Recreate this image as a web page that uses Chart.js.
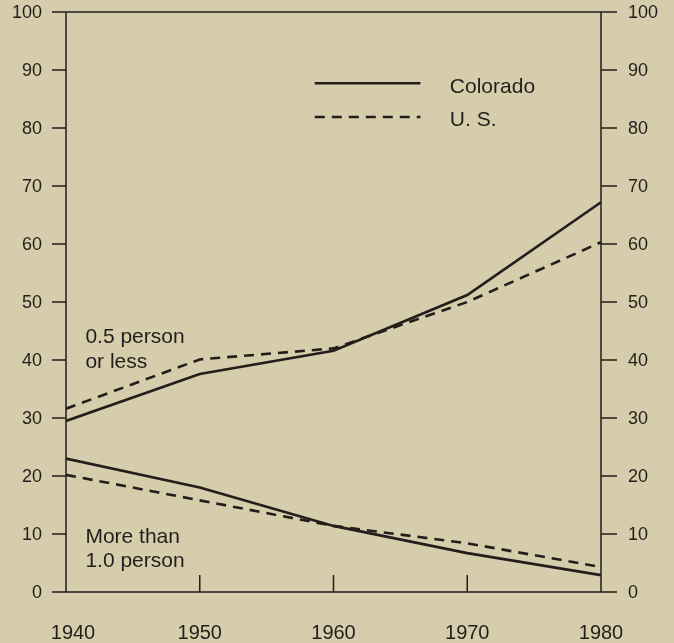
<!DOCTYPE html>
<html>
<head>
<meta charset="utf-8">
<script src="https://cdn.jsdelivr.net/npm/chart.js@4/dist/chart.umd.min.js"></script>
<style>
  html, body { margin: 0; padding: 0; background: #d6cdad; }
  #wrap { width: 674px; height: 643px; }
</style>
</head>
<body>
<div id="wrap"><canvas id="myChart" width="674" height="643"></canvas></div>
<script>
const years = [1940, 1950, 1960, 1970, 1980]
const yTicks = [0, 10, 20, 30, 40, 50, 60, 70, 80, 90, 100]

// persons per room, percent of occupied units
const coloradoLow = [29.5, 37.6, 41.6, 51.2, 67.2]
const usLow = [31.6, 40.1, 42.0, 50.0, 60.3]
const coloradoHigh = [23.0, 18.0, 11.4, 6.7, 2.9]
const usHigh = [20.2, 15.8, 11.4, 8.4, 4.3]

const ink = '#241d1a'
const fontName = '"Liberation Sans", Arial, sans-serif'

const toPoints = arr => arr.map((v, i) => ({x: years[i], y: v}))

const axesPlugin = {
  id: 'axesPlugin',
  afterDraw(chart) {
    const ctx = chart.ctx
    const x = chart.scales.x
    const y = chart.scales.y
    const left = x.getPixelForValue(1940)
    const right = x.getPixelForValue(1980)
    const top = y.getPixelForValue(100)
    const bottom = y.getPixelForValue(0)
    ctx.save()
    ctx.strokeStyle = ink
    ctx.fillStyle = ink
    ctx.lineWidth = 1.5
    ctx.beginPath()
    ctx.moveTo(left, top); ctx.lineTo(left, bottom)
    ctx.moveTo(right, top); ctx.lineTo(right, bottom)
    ctx.moveTo(left - 14, top); ctx.lineTo(right + 16, top)
    ctx.moveTo(left - 14, bottom); ctx.lineTo(right + 16, bottom)
    yTicks.forEach(t => {
      const py = y.getPixelForValue(t)
      ctx.moveTo(left - 14, py); ctx.lineTo(left, py)
      ctx.moveTo(right, py); ctx.lineTo(right + 16, py)
    })
    years.forEach(yr => {
      const px = x.getPixelForValue(yr)
      ctx.moveTo(px, bottom); ctx.lineTo(px, bottom - 17)
    })
    ctx.stroke()

    ctx.font = '18px ' + fontName
    ctx.textBaseline = 'middle'
    yTicks.forEach(t => {
      const py = y.getPixelForValue(t)
      ctx.textAlign = 'right'
      ctx.fillText(String(t), left - 24, py + 1)
      ctx.textAlign = 'left'
      ctx.fillText(String(t), right + 27, py + 1)
    })
    ctx.font = '20px ' + fontName
    ctx.textAlign = 'center'
    years.forEach((yr, i) => {
      let px = x.getPixelForValue(yr)
      if (i === 0) px += 7
      ctx.fillText(String(yr), px, bottom + 41)
    })

    // annotations
    ctx.font = '21px ' + fontName
    ctx.textAlign = 'left'
    const ax = x.getPixelForValue(1941.45)
    ctx.fillText('0.5 person', ax, y.getPixelForValue(44.0))
    ctx.fillText('or less', ax, y.getPixelForValue(39.7))
    ctx.fillText('More than', ax, y.getPixelForValue(9.4))
    ctx.fillText('1.0 person', ax, y.getPixelForValue(5.25))

    // legend
    const lx1 = x.getPixelForValue(1958.6)
    const lx2 = x.getPixelForValue(1966.5)
    const ly1 = y.getPixelForValue(87.7)
    const ly2 = y.getPixelForValue(81.9)
    ctx.lineWidth = 2.5
    ctx.beginPath()
    ctx.moveTo(lx1, ly1); ctx.lineTo(lx2, ly1)
    ctx.stroke()
    ctx.setLineDash([10, 7])
    ctx.beginPath()
    ctx.moveTo(lx1, ly2); ctx.lineTo(lx2, ly2)
    ctx.stroke()
    ctx.setLineDash([])
    const tx = x.getPixelForValue(1968.7)
    ctx.fillText('Colorado', tx, ly1 + 4)
    ctx.fillText('U. S.', tx, ly2 + 3)
    ctx.restore()
  }
}

const lineStyle = dashed => ({
  borderColor: ink,
  borderWidth: 2.6,
  borderDash: dashed ? [10, 7] : [],
  pointRadius: 0,
  tension: 0,
  fill: false
})

new Chart(document.getElementById('myChart'), {
  type: 'line',
  data: {
    datasets: [
      {label: 'Colorado 0.5 or less', data: toPoints(coloradoLow), ...lineStyle(false)},
      {label: 'U.S. 0.5 or less', data: toPoints(usLow), ...lineStyle(true)},
      {label: 'Colorado more than 1.0', data: toPoints(coloradoHigh), ...lineStyle(false)},
      {label: 'U.S. more than 1.0', data: toPoints(usHigh), ...lineStyle(true)}
    ]
  },
  options: {
    responsive: false,
    animation: false,
    layout: {padding: {left: 66, right: 73, top: 12, bottom: 51}},
    scales: {
      x: {type: 'linear', min: 1940, max: 1980, display: false},
      y: {min: 0, max: 100, display: false}
    },
    plugins: {legend: {display: false}, tooltip: {enabled: false}}
  },
  plugins: [axesPlugin]
})
</script>
</body>
</html>
